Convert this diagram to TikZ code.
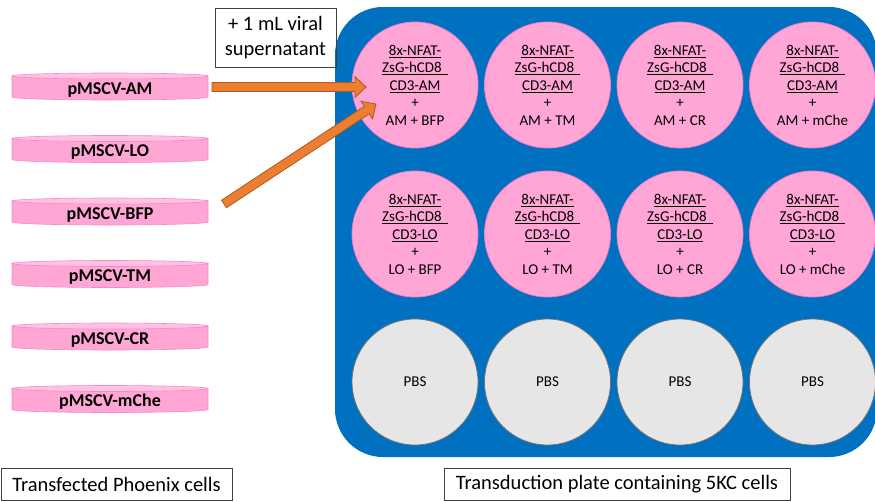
\documentclass[tikz,border=0pt]{standalone}
\usepackage{fontspec}
\setmainfont{Carlito}
\usetikzlibrary{calc}
\definecolor{plateblue}{RGB}{0,112,192}
\definecolor{wellpink}{RGB}{255,166,214}
\definecolor{wellpinkline}{RGB}{240,125,195}
\definecolor{pbsgray}{RGB}{231,230,230}
\definecolor{pbsline}{RGB}{118,113,113}
\definecolor{dishpink}{RGB}{255,166,213}
\definecolor{dishtop}{RGB}{255,194,227}
\definecolor{dishline}{RGB}{250,135,200}
\definecolor{arroworange}{RGB}{237,125,49}
\definecolor{arrowline}{RGB}{174,90,33}
\newcommand{\wul}[1]{\setbox0\hbox{#1}\rlap{\rule[-2.6pt]{\wd0}{0.8pt}}\box0}
\newcommand{\dishcyl}[1]{%
  \path[fill=dishpink,draw=dishline,line width=0.6pt] (12,#1+3) -- (12,#1+24)
    arc[start angle=180,end angle=0,x radius=98,y radius=3] -- (208,#1+3) -- cycle;
  \path[fill=dishtop,draw=dishline,line width=0.6pt] (110,#1+3) ellipse[x radius=98,y radius=3];}
\newcommand{\blockarrow}[2]{%
  \coordinate (hb) at ($(#2)!11pt!(#1)$);
  \filldraw[fill=arroworange,draw=arrowline,line width=0.8pt,line join=miter]
    ($(#1)!4.5pt!90:(#2)$) -- ($(hb)!4.5pt!90:(#2)$) -- ($(hb)!10.5pt!90:(#2)$) -- (#2)
    -- ($(hb)!10.5pt!-90:(#2)$) -- ($(hb)!4.5pt!-90:(#2)$) -- ($(#1)!4.5pt!-90:(#2)$) -- cycle;}
\begin{document}
\begin{tikzpicture}[x=1pt,y=-1pt,
  well/.style={circle,minimum size=126pt,inner sep=0pt,align=center,line width=0.8pt,
    font=\fontsize{15}{17.5}\selectfont},
  pinkwell/.style={well,fill=wellpink,draw=wellpinkline},
  pbswell/.style={well,fill=pbsgray,draw=pbsline},
  labelbox/.style={draw=black!75,line width=0.8pt,inner sep=0pt,align=center,
    font=\fontsize{20.5}{25}\selectfont},
  dishlabel/.style={font=\bfseries\fontsize{18}{20}\selectfont,inner sep=0pt,anchor=base}]
\useasboundingbox (0,0) rectangle (875,501);
% plate
\path[fill=plateblue,rounded corners=48pt] (335,7) rectangle (877,457);
% wells
\node[pinkwell] (w11) at (415,85) {\wul{8x-NFAT-}\\\wul{ZsG-hCD8\hspace{6pt}}\\\wul{CD3-AM}\\+\\AM + BFP};
\node[pinkwell] (w12) at (547.5,85) {\wul{8x-NFAT-}\\\wul{ZsG-hCD8\hspace{6pt}}\\\wul{CD3-AM}\\+\\AM + TM};
\node[pinkwell] (w13) at (680,85) {\wul{8x-NFAT-}\\\wul{ZsG-hCD8\hspace{6pt}}\\\wul{CD3-AM}\\+\\AM + CR};
\node[pinkwell] (w14) at (812.5,85) {\wul{8x-NFAT-}\\\wul{ZsG-hCD8\hspace{6pt}}\\\wul{CD3-AM}\\+\\AM + mChe};
\node[pinkwell] (w21) at (415,234) {\wul{8x-NFAT-}\\\wul{ZsG-hCD8\hspace{6pt}}\\\wul{CD3-LO}\\+\\LO + BFP};
\node[pinkwell] (w22) at (547.5,234) {\wul{8x-NFAT-}\\\wul{ZsG-hCD8\hspace{6pt}}\\\wul{CD3-LO}\\+\\LO + TM};
\node[pinkwell] (w23) at (680,234) {\wul{8x-NFAT-}\\\wul{ZsG-hCD8\hspace{6pt}}\\\wul{CD3-LO}\\+\\LO + CR};
\node[pinkwell] (w24) at (812.5,234) {\wul{8x-NFAT-}\\\wul{ZsG-hCD8\hspace{6pt}}\\\wul{CD3-LO}\\+\\LO + mChe};
\node[pbswell] (w31) at (415,382) {PBS};
\node[pbswell] (w32) at (547.5,382) {PBS};
\node[pbswell] (w33) at (680,382) {PBS};
\node[pbswell] (w34) at (812.5,382) {PBS};
% dishes
\foreach \n/\t in {AM/73,LO/135.5,BFP/198,TM/260.5,CR/323,mChe/385.5}{
  \dishcyl{\t}
  \node[dishlabel] (d\n) at (110,\t+21.3) {pMSCV-\n};
}
% text boxes
\node[labelbox,minimum width=121pt,minimum height=59pt] (sup) at (275.5,37.5) {+ 1 mL viral\\supernatant};
\node[labelbox,minimum width=231pt,minimum height=32pt] (phx) at (116.5,484) {Transfected Phoenix cells};
\node[labelbox,minimum width=346pt,minimum height=32pt] (trd) at (617,484) {Transduction plate containing 5KC cells};
% arrows
\coordinate (a1s) at (212,87);
\coordinate (a1e) at (366,87);
\coordinate (a2s) at (224,204);
\coordinate (a2e) at (376,104);
\blockarrow{a1s}{a1e}
\blockarrow{a2s}{a2e}
\end{tikzpicture}
\end{document}
